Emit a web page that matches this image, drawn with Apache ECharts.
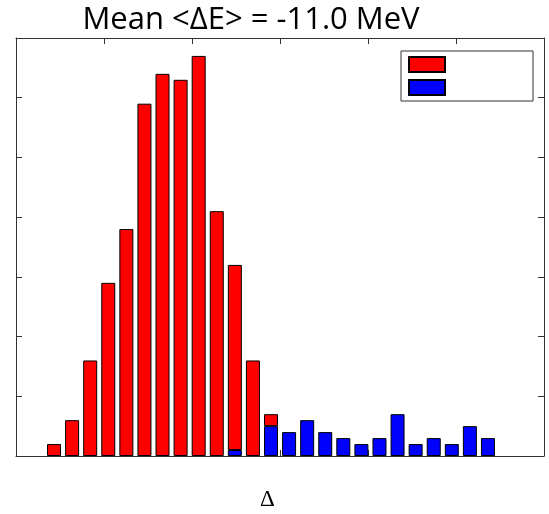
<!DOCTYPE html>
<html>
<head>
<meta charset="utf-8">
<script src="https://cdn.jsdelivr.net/npm/echarts@6/dist/echarts.min.js"></script>
<style>
  html, body { margin: 0; padding: 0; background: #fff; }
  #chart { width: 549px; height: 514px; }
</style>
</head>
<body>
<div id="chart"></div>
<script>
// bins of the histogram (no labels shown on the axis)
var bins = ['1', '2', '3', '4', '5', '6', '7', '8', '9', '10', '11', '12', '13',
    '14', '15', '16', '17', '18', '19', '20', '21', '22', '23', '24', '25'];
// red part, stacked on top of the blue part
var redVals = [0.2, 0.6, 1.6, 2.9, 3.8, 5.9, 6.4, 6.3, 6.7, 4.1, 3.1, 1.6, 0.2,
    '-', '-', '-', '-', '-', '-', '-', '-', '-', '-', '-', '-'];
var blueVals = ['-', '-', '-', '-', '-', '-', '-', '-', '-', '-', 0.1, '-', 0.5,
    0.4, 0.6, 0.4, 0.3, 0.2, 0.3, 0.7, 0.2, 0.3, 0.2, 0.5, 0.3];
var titleText = 'Mean <ΔE> = -11.0 MeV';
var xLabel = 'Δ';

var chart = echarts.init(document.getElementById('chart'));

// frame axes (ticks only, no labels)
var frameAxis = function (pos, max) {
    return {
        gridIndex: 0,
        type: 'value',
        position: pos,
        min: 0,
        max: max,
        interval: 1,
        axisLine: { show: true, onZero: false, lineStyle: { color: '#333', width: 1 } },
        axisTick: { show: true, inside: true, length: 6, lineStyle: { color: '#333' } },
        axisLabel: { show: false },
        splitLine: { show: false }
    };
};

var option = {
    backgroundColor: '#fff',
    animation: false,
    title: {
        text: titleText,
        left: 246,
        top: 0,
        textAlign: 'center',
        textStyle: {
            fontFamily: 'Open Sans',
            fontSize: 31,
            fontWeight: 'normal',
            color: '#000'
        }
    },
    graphic: [{
        type: 'text',
        left: 260,
        top: 488,
        style: {
            text: xLabel,
            fontFamily: 'Liberation Serif',
            fontSize: 23,
            fill: '#000'
        }
    }],
    legend: {
        data: ['red', 'blue'],
        orient: 'vertical',
        left: 401,
        top: 51,
        icon: 'rect',
        itemWidth: 36,
        itemHeight: 15,
        itemGap: 6,
        padding: [5, 87, 5, 7],
        borderColor: '#333',
        borderWidth: 1,
        backgroundColor: '#fff',
        formatter: function () { return ''; },
        selectedMode: false
    },
    grid: [
        { left: 16, right: 5, top: 38, bottom: 58 },
        { left: 45, right: 52, top: 38, bottom: 58 }
    ],
    xAxis: [
        frameAxis('bottom', 6),
        frameAxis('top', 6),
        {
            gridIndex: 1,
            type: 'category',
            data: bins,
            show: false
        }
    ],
    yAxis: [
        frameAxis('left', 7),
        frameAxis('right', 7),
        {
            gridIndex: 1,
            type: 'value',
            min: 0,
            max: 7,
            show: false
        }
    ],
    series: [{
        name: 'blue',
        type: 'bar',
        stack: 'all',
        xAxisIndex: 2,
        yAxisIndex: 2,
        barWidth: 14,
        itemStyle: { color: '#0000ff', borderColor: '#000', borderWidth: 1 },
        data: blueVals
    }, {
        name: 'red',
        type: 'bar',
        stack: 'all',
        xAxisIndex: 2,
        yAxisIndex: 2,
        barWidth: 14,
        itemStyle: { color: '#ff0000', borderColor: '#000', borderWidth: 1 },
        data: redVals
    }]
};
chart.setOption(option);
</script>
</body>
</html>
